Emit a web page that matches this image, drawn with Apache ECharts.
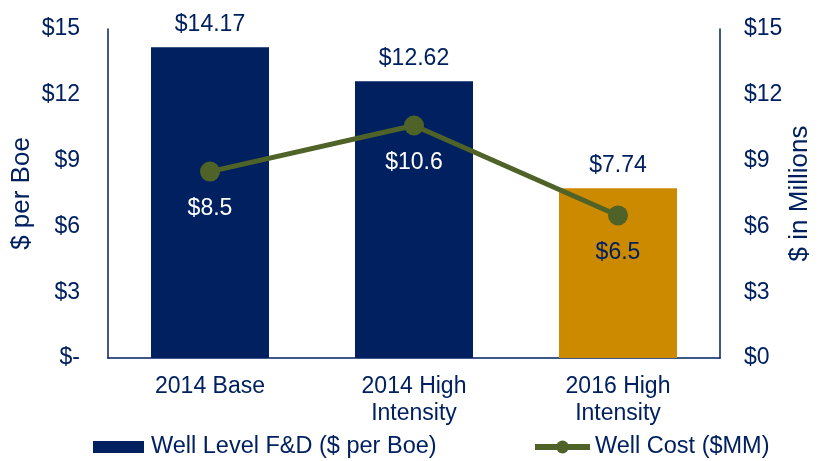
<!DOCTYPE html>
<html>
<head>
<meta charset="utf-8">
<script src="https://cdn.jsdelivr.net/npm/echarts@6/dist/echarts.min.js"></script>
<style>
  html, body { margin: 0; padding: 0; background: #fff; }
  #chart { width: 823px; height: 461px; }
</style>
</head>
<body>
<div id="chart"></div>
<script>
// data
const categories = ['2014 Base', '2014 High\nIntensity', '2016 High\nIntensity']
const fdValues = [14.17, 12.62, 7.74]
const costValues = [8.5, 10.6, 6.5]
const yTicks = [0, 3, 6, 9, 12, 15]

const navy = '#002060'
const gold = '#CC8A00'
const olive = '#4F6228'
const font = 'Liberation Sans, Arial, sans-serif'

const barColors = [navy, navy, gold]
const costLabelColors = ['#ffffff', '#ffffff', navy]

let myChart = echarts.init(document.getElementById('chart'))

let option = {
  animation: false,
  textStyle: { fontFamily: font },
  grid: { left: 108, right: 103, top: 29, bottom: 103, outerBoundsMode: 'none', containLabel: false },
  legend: [
    {
      data: [{ name: 'Well Level F&D ($ per Boe)', icon: 'rect' }],
      left: 93, top: 435, padding: 0,
      itemWidth: 51, itemHeight: 12, itemGap: 7,
      textStyle: { color: navy, fontSize: 23.5, fontFamily: font, padding: [0, 0, 0, 2] }
    },
    {
      data: ['Well Cost ($MM)'],
      left: 532, top: 435, padding: 0,
      itemWidth: 55, itemHeight: 16,
      lineStyle: { width: 6, color: olive },
      textStyle: { color: navy, fontSize: 23.5, fontFamily: font }
    }
  ],
  xAxis: {
    type: 'category',
    data: categories,
    axisLine: { lineStyle: { color: navy, width: 1.5 } },
    axisTick: { show: false },
    axisLabel: { color: navy, fontSize: 23, fontFamily: font, margin: 15, lineHeight: 27 }
  },
  yAxis: [
    {
      type: 'value',
      min: 0, max: 15, interval: 3,
      name: '$ per Boe',
      nameLocation: 'middle',
      nameGap: 73,
      nameMoveOverlap: false,
      nameTextStyle: { color: navy, fontSize: 26, fontFamily: font },
      axisLine: { show: true, lineStyle: { color: navy, width: 1.5 } },
      axisTick: { show: false },
      splitLine: { show: false },
      axisLabel: {
        color: navy, fontSize: 23, fontFamily: font, margin: 28,
        formatter: v => (v === 0 ? '$-' : '$' + v)
      }
    },
    {
      type: 'value',
      min: 0, max: 15, interval: 3,
      name: '$ in Millions',
      nameLocation: 'middle',
      nameGap: 67,
      nameMoveOverlap: false,
      nameRotate: 90,
      nameTextStyle: { color: navy, fontSize: 26, fontFamily: font },
      axisLine: { show: true, lineStyle: { color: navy, width: 1.5 } },
      axisTick: { show: false },
      splitLine: { show: false },
      axisLabel: {
        color: navy, fontSize: 23, fontFamily: font, margin: 24,
        formatter: v => '$' + v
      }
    }
  ],
  series: [
    {
      name: 'Well Level F&D ($ per Boe)',
      type: 'bar',
      yAxisIndex: 0,
      barWidth: 118,
      itemStyle: { color: navy },
      data: fdValues.map((v, i) => ({ value: v, itemStyle: { color: barColors[i] } })),
      label: {
        show: true, position: 'top', distance: 11,
        color: navy, fontSize: 23, fontFamily: font,
        formatter: p => '$' + p.value.toFixed(2)
      }
    },
    {
      name: 'Well Cost ($MM)',
      type: 'line',
      yAxisIndex: 1,
      symbol: 'circle',
      symbolSize: 20,
      lineStyle: { color: olive, width: 5 },
      itemStyle: { color: olive },
      data: costValues.map((v, i) => ({
        value: v,
        label: { color: costLabelColors[i] }
      })),
      label: {
        show: true, position: 'bottom', distance: 16,
        fontSize: 23, fontFamily: font,
        formatter: p => '$' + p.value
      }
    }
  ]
}

myChart.setOption(option)
</script>
</body>
</html>
